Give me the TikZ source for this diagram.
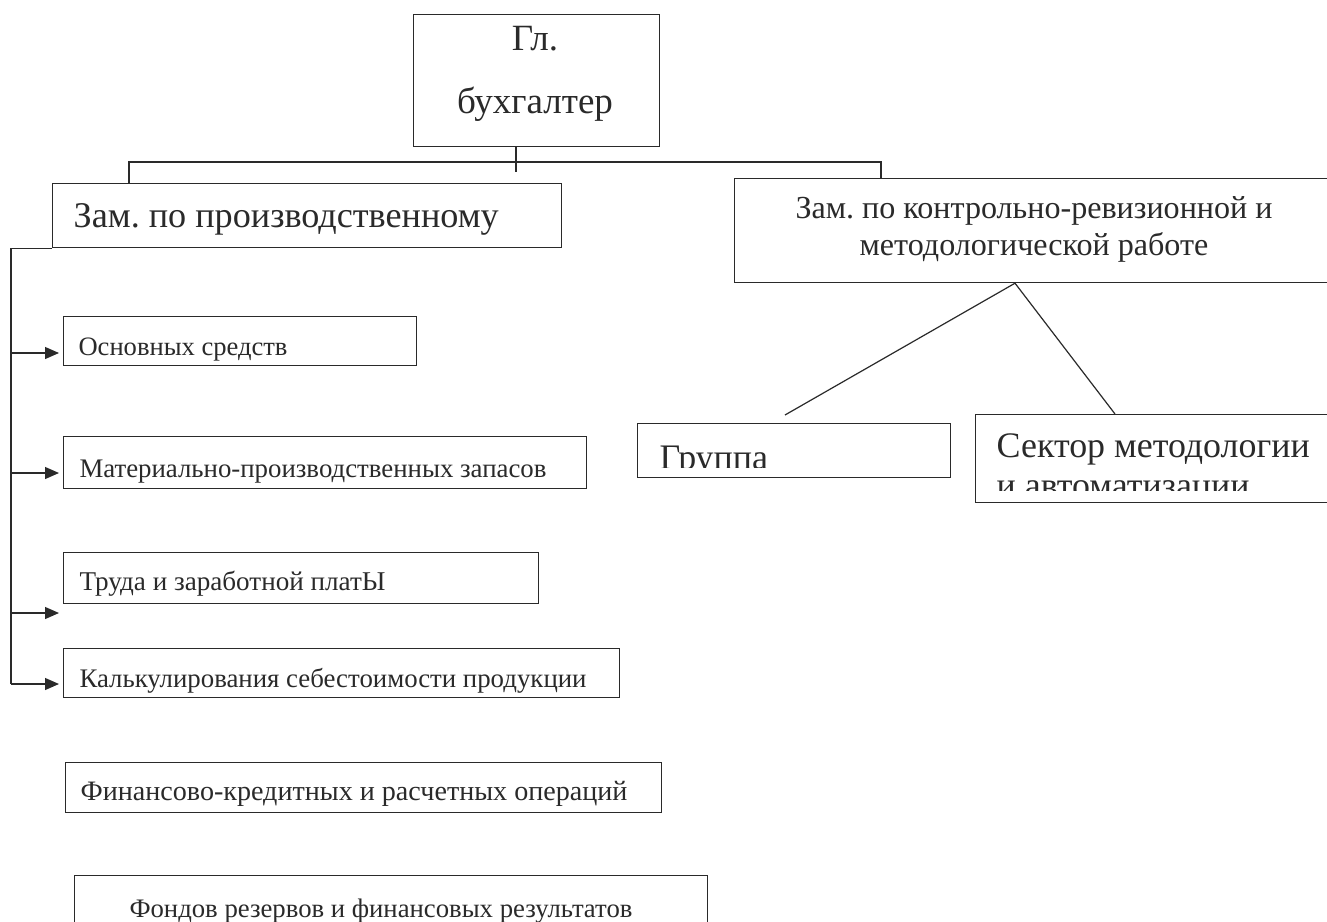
\documentclass[tikz,border=0pt]{standalone}
\usepackage{fontspec}
\setmainfont{Liberation Serif}
\usetikzlibrary{arrows.meta}
\definecolor{ink}{HTML}{2A2A2A}
\frenchspacing
\newlength\fitL
\newcommand\sizeof[3]{\settowidth\fitL{\fontsize{10pt}{12pt}\selectfont #3}\pgfmathsetmacro\tmpfs{#2/\fitL}\global\let#1\tmpfs}
\begin{document}
\sizeof{\gbfs}{156}{бухгалтер}%
\sizeof{\zkfs}{477}{Зам. по контрольно-ревизионной и}%
\sizeof{\sefs}{313}{Сектор методологии}%
\sizeof{\zpfs}{425}{Зам. по производственному}%
\sizeof{\oafs}{209}{Основных средств}%
\sizeof{\mafs}{467}{Материально-производственных запасов}%
\sizeof{\trfs}{306}{Труда и заработной платЫ}%
\sizeof{\kafs}{507}{Калькулирования себестоимости продукции}%
\sizeof{\fifs}{547}{Финансово-кредитных и расчетных операций}%
\sizeof{\fofs}{503}{Фондов резервов и финансовых результатов}%
\begin{tikzpicture}[x=1pt,y=-1pt,
  box/.style={draw=ink, line width=1.2pt, rectangle, inner sep=0pt, anchor=north west},
  txt/.style={inner sep=0pt, text=ink, font=\fontsize{10pt}{12pt}\selectfont},
  conn/.style={draw=ink, line width=1.2pt},
  arr/.style={conn, -{Triangle[length=14pt,width=12pt]}, shorten >=4pt}]
\clip (0,0) rectangle (1327,921);
\fill[white] (0,0) rectangle (1327,921);
% boxes
\node[box, minimum width=246pt, minimum height=132pt] (gb) at (413,14) {};
\node[box, minimum width=509pt, minimum height=64pt] (zp) at (52,183) {};
\node[box, minimum width=620pt, minimum height=104pt] (zk) at (734,178) {};
\node[box, minimum width=353pt, minimum height=49pt] (o1) at (63,316) {};
\node[box, minimum width=523pt, minimum height=52pt] (ma) at (63,436) {};
\node[box, minimum width=475pt, minimum height=51pt] (tr) at (63,552) {};
\node[box, minimum width=556pt, minimum height=49pt] (ka) at (63,648) {};
\node[box, minimum width=596pt, minimum height=50pt] (fi) at (65,762) {};
\node[box, minimum width=633pt, minimum height=80pt] (fo) at (74,875) {};
\node[box, minimum width=313pt, minimum height=54pt] (gr) at (637,423) {};
\node[box, minimum width=380pt, minimum height=88pt] (se) at (975,414) {};
% texts
\node[txt, anchor=base, scale=\gbfs] (gbt1) at (535,50) {Гл.};
\node[txt, anchor=base, scale=\gbfs] (gbt2) at (535,113) {бухгалтер};
\node[txt, anchor=base west, scale=\zpfs] (zpt) at (73,227) {Зам. по производственному};
\node[txt, anchor=base, scale=\zkfs] (zkt1) at (1034,218) {Зам. по контрольно-ревизионной и};
\node[txt, anchor=base, scale=\zkfs] (zkt2) at (1034,255) {методологической работе};
\node[txt, anchor=base west, scale=\oafs] (o1t) at (78,355) {Основных средств};
\node[txt, anchor=base west, scale=\mafs] (mat) at (79,477) {Материально-производственных запасов};
\node[txt, anchor=base west, scale=\trfs] (trt) at (79,590) {Труда и заработной платЫ};
\node[txt, anchor=base west, scale=\kafs] (kat) at (79,687) {Калькулирования себестоимости продукции};
\node[txt, anchor=base west, scale=\fifs] (fit) at (80,800) {Финансово-кредитных и расчетных операций};
\node[txt, anchor=base, scale=\fofs] (fot) at (381,917) {Фондов резервов и финансовых результатов};
\begin{scope}
\clip (637,423) rectangle (950,467);
\node[txt, anchor=base west, scale=\sefs] (grt) at (659,469) {Группа};
\end{scope}
\begin{scope}
\clip (975,414) rectangle (1327,490);
\node[txt, anchor=base west, scale=\sefs] (set1) at (996,457) {Сектор методологии};
\node[txt, anchor=base west, scale=\sefs] (set2) at (996,497) {и автоматизации};
\end{scope}
% connectors
\coordinate (stem) at (516,172);
\coordinate (busL) at (129,162);
\coordinate (busR) at (881,162);
\draw[conn] (gb.south -| stem) -- (stem);
\draw[conn] (zp.north -| busL) -- (busL) -- (busR) -- (zk.north -| busR);
\coordinate (a1) at (11,353);
\coordinate (a2) at (11,473);
\coordinate (a3) at (11,613);
\coordinate (a4) at (11,684);
\draw[conn] (zp.south west) -| (a4);
\draw[arr] (a1) -- (a1 -| o1.west);
\draw[arr] (a2) -- (a2 -| ma.west);
\draw[arr] (a3) -- (a3 -| tr.west);
\draw[arr] (a4) -- (a4 -| ka.west);
\coordinate (apex) at (1015,282);
\coordinate (gEnd) at (785,415);
\coordinate (sEnd) at (1115,414);
\draw[conn] (zk.south -| apex) -- (gEnd);
\draw[conn] (zk.south -| apex) -- (se.north -| sEnd);
\end{tikzpicture}
\end{document}
